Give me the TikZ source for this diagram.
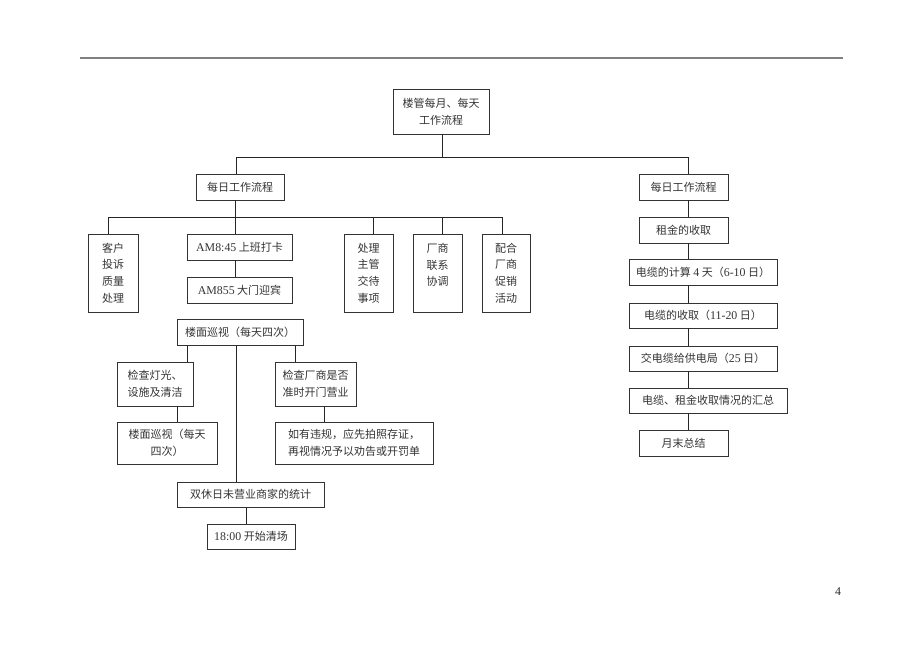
\documentclass[tikz,border=0pt]{standalone}
\usepackage{fontspec}
\setmainfont{Noto Sans CJK SC}
\newfontfamily\lat[Scale=1.08]{Liberation Serif}
\begin{document}
\begin{tikzpicture}[x=1pt,y=-1pt,
  box/.style={draw=black!80, line width=0.8pt, rectangle, inner sep=0pt, align=center,
    text=black!80, font=\fontsize{11}{16.7}\selectfont},
  conn/.style={draw=black!85, line width=0.8pt}]
\useasboundingbox (0,0) rectangle (920,651);
\draw[black!50, line width=1.2pt] (80,58) -- (843,58);
% top
\node[box, minimum width=96, minimum height=45] (top) at (441,111.5) {楼管每月、每天\\工作流程};
\node[box, minimum width=88, minimum height=26] (L1) at (240,187) {每日工作流程};
\node[box, minimum width=89, minimum height=26] (R1) at (683.5,187) {每日工作流程};
\coordinate (b1) at (236,157);
\coordinate (b2) at (688,157);
\draw[conn] (top.south -| 442,0) -- (442,157);
\draw[conn] (b1) -- (b2);
\draw[conn] (b1) -- (b1 |- L1.north);
\draw[conn] (b2) -- (b2 |- R1.north);
% left children
\node[box, minimum width=50, minimum height=78] (k1) at (113,273) {客户\\投诉\\质量\\处理};
\node[box, minimum width=105, minimum height=26] (a1) at (239.5,247) {{\lat AM8:45} 上班打卡};
\node[box, minimum width=105, minimum height=26] (a2) at (239.5,290) {{\lat AM855} 大门迎宾};
\node[box, minimum width=49, minimum height=78] (k2) at (368.5,273) {处理\\主管\\交待\\事项};
\node[box, minimum width=49, minimum height=78] (k3) at (437.5,273) {厂商\\联系\\协调\\\mbox{}};
\node[box, minimum width=48, minimum height=78] (k4) at (506,273) {配合\\厂商\\促销\\活动};
\coordinate (j0) at (108,217);
\coordinate (j1) at (235,217);
\coordinate (j2) at (373,217);
\coordinate (j3) at (442,217);
\coordinate (j4) at (502,217);
\draw[conn] (L1.south -| j1) -- (j1);
\draw[conn] (j0) -- (j4);
\draw[conn] (j0) -- (j0 |- k1.north);
\draw[conn] (j1) -- (j1 |- a1.north);
\draw[conn] (j2) -- (j2 |- k2.north);
\draw[conn] (j3) -- (j3 |- k3.north);
\draw[conn] (j4) -- (j4 |- k4.north);
\draw[conn] (a1.south -| j1) -- (a2.north -| j1);
% patrol
\node[box, minimum width=126, minimum height=26] (p1) at (240,332) {楼面巡视（每天四次）};
\node[box, minimum width=76, minimum height=44] (q1) at (155,384) {检查灯光、\\设施及清洁};
\node[box, minimum width=81, minimum height=44] (q2) at (315.5,384) {检查厂商是否\\准时开门营业};
\node[box, minimum width=100, minimum height=42] (r1) at (167,443) {楼面巡视（每天\\四次）};
\node[box, minimum width=158, minimum height=42] (r2) at (354,443) {如有违规，应先拍照存证，\\再视情况予以劝告或开罚单};
\node[box, minimum width=147, minimum height=25] (s1) at (250.5,494.5) {双休日未营业商家的统计};
\node[box, minimum width=88, minimum height=25] (s2) at (251,536.5) {{\lat 18:00} 开始清场};
\coordinate (m1) at (187,0);
\coordinate (m2) at (236,0);
\coordinate (m3) at (295,0);
\coordinate (m4) at (177,0);
\coordinate (m5) at (324,0);
\coordinate (m6) at (246,0);
\draw[conn] (p1.south -| m1) -- (q1.north -| m1);
\draw[conn] (p1.south -| m2) -- (s1.north -| m2);
\draw[conn] (p1.south -| m3) -- (q2.north -| m3);
\draw[conn] (q1.south -| m4) -- (r1.north -| m4);
\draw[conn] (q2.south -| m5) -- (r2.north -| m5);
\draw[conn] (s1.south -| m6) -- (s2.north -| m6);
% right chain
\node[box, minimum width=89, minimum height=26] (R2) at (683.5,230) {租金的收取};
\node[box, minimum width=148, minimum height=26] (R3) at (703,272) {电缆的计算 {\lat 4} 天（{\lat 6-10} 日）};
\node[box, minimum width=148, minimum height=25] (R4) at (703,315.5) {电缆的收取（{\lat 11-20} 日）};
\node[box, minimum width=148, minimum height=25] (R5) at (703,358.5) {交电缆给供电局（{\lat 25} 日）};
\node[box, minimum width=158, minimum height=25] (R6) at (708,400.5) {电缆、租金收取情况的汇总};
\node[box, minimum width=89, minimum height=26] (R7) at (683.5,443) {月末总结};
\draw[conn] (R1.south -| b2) -- (R2.north -| b2);
\draw[conn] (R2.south -| b2) -- (R3.north -| b2);
\draw[conn] (R3.south -| b2) -- (R4.north -| b2);
\draw[conn] (R4.south -| b2) -- (R5.north -| b2);
\draw[conn] (R5.south -| b2) -- (R6.north -| b2);
\draw[conn] (R6.south -| b2) -- (R7.north -| b2);
\node[font=\lat\fontsize{11}{12}\selectfont, text=black!85] (pg) at (838,592) {4};
\end{tikzpicture}
\end{document}
